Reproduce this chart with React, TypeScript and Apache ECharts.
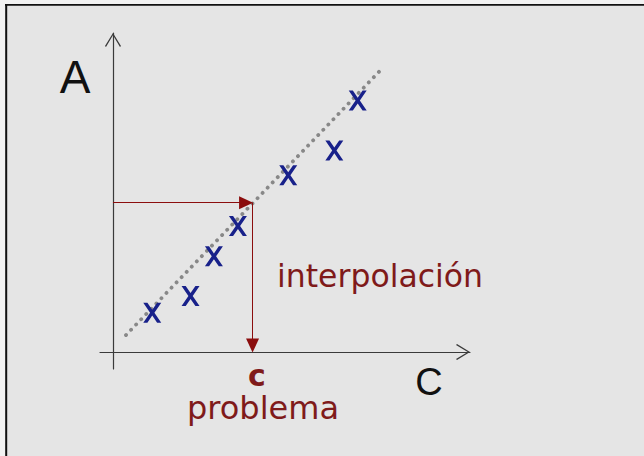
import React, { useEffect, useRef } from "react";
import * as echarts from "echarts";

// measured points (C, A)
const sampleC = [1.21, 2.39, 3.11, 3.85, 5.4, 6.82, 7.54];
const sampleA = [1.16, 1.65, 2.82, 3.71, 5.21, 5.94, 7.41];
// calibration line ends
const fitC = [0.4, 8.31];
const fitA = [0.5, 8.37];
// interpolated problem point
const problemC = 4.3;
const problemA = 4.4;
// arrow head length in data units (stop before target so tip meets it)
const headC = 0.2;
const headA = 0.19;

const axisNames = { y: "A", x: "C" };
const labels = { interp: "interpolación", c: "c", problem: "problema" };

const CHEVRON = "path://M0,13L8,0L16,13L15,14L8,2.3L1,14Z";
const XMARK =
  "path://M0,0L23,0L50,39L77,0L100,0L62,55L100,110L77,110L50,71L23,110L0,110L38,55Z";

const RED = "#7f1a1a";

export default function App() {
  const ref = useRef<HTMLDivElement>(null);
  useEffect(() => {
    if (!ref.current) return;
    const chart = echarts.init(ref.current, undefined, { renderer: "svg" });
    const axisLineStyle = { color: "#3a3a3a", width: 1.2 };
    chart.setOption({
      animation: false,
      backgroundColor: "#e5e5e5",
      grid: { left: 100, right: 174, top: 33, bottom: 87 },
      xAxis: {
        type: "value",
        min: -0.4,
        max: 11,
        axisLine: {
          show: true,
          onZero: true,
          symbol: ["none", CHEVRON],
          symbolSize: [16, 14],
          symbolOffset: [0, -7],
          lineStyle: axisLineStyle,
        },
        axisTick: { show: false },
        axisLabel: { show: false },
        splitLine: { show: false },
      },
      yAxis: {
        type: "value",
        min: -0.5,
        max: 9.4,
        axisLine: {
          show: true,
          onZero: true,
          symbol: ["none", CHEVRON],
          symbolSize: [16, 14],
          symbolOffset: [0, -7],
          lineStyle: axisLineStyle,
        },
        axisTick: { show: false },
        axisLabel: { show: false },
        splitLine: { show: false },
      },
      series: [
        {
          type: "line",
          data: fitC.map((c, i) => [c, fitA[i]]),
          symbol: "none",
          z: 2,
          lineStyle: { color: "#888888", width: 3.8, type: [0.1, 7.2], cap: "round" },
          markLine: {
            silent: true,
            symbol: ["none", "triangle"],
            symbolSize: [13, 14],
            label: { show: false },
            lineStyle: { color: "#8b0d0d", width: 1, type: "solid" },
            data: [
              [{ coord: [0, problemA] }, { coord: [problemC - headC, problemA] }],
              [{ coord: [problemC, problemA] }, { coord: [problemC, headA] }],
            ],
          },
        },
        {
          type: "scatter",
          data: sampleC.map((c, i) => [c, sampleA[i]]),
          symbol: XMARK,
          symbolSize: [18, 20],
          z: 5,
          itemStyle: { color: "#18218a", opacity: 1 },
        },
      ],
      graphic: [
        { type: "rect", shape: { x: 0, y: 0, width: 644, height: 4 }, style: { fill: "#f2f2f2" }, z: 10 },
        { type: "rect", shape: { x: 0, y: 0, width: 5, height: 456 }, style: { fill: "#f2f2f2" }, z: 10 },
        { type: "line", shape: { x1: 5, y1: 4.8, x2: 644, y2: 4.8 }, style: { stroke: "#111", lineWidth: 1.8 }, z: 11 },
        { type: "line", shape: { x1: 6.2, y1: 4, x2: 6.2, y2: 456 }, style: { stroke: "#111", lineWidth: 2 }, z: 11 },
        {
          type: "text",
          x: 75,
          y: 77,
          style: { text: axisNames.y, font: "46px 'Liberation Sans'", fill: "#111", align: "center", verticalAlign: "middle" },
          z: 12,
        },
        {
          type: "text",
          x: 429,
          y: 382,
          style: { text: axisNames.x, font: "38px 'Liberation Sans'", fill: "#111", align: "center", verticalAlign: "middle" },
          z: 12,
        },
        {
          type: "text",
          x: 277,
          y: 276,
          style: { text: labels.interp, font: "31.5px 'DejaVu Sans'", fill: RED, align: "left", verticalAlign: "middle" },
          z: 12,
        },
        {
          type: "text",
          x: 257,
          y: 375,
          style: { text: labels.c, font: "bold 30px 'DejaVu Sans'", fill: RED, align: "center", verticalAlign: "middle" },
          z: 12,
        },
        {
          type: "text",
          x: 187,
          y: 408,
          style: { text: labels.problem, font: "32px 'DejaVu Sans'", fill: RED, align: "left", verticalAlign: "middle" },
          z: 12,
        },
      ],
    });
    return () => chart.dispose();
  }, []);
  return (
    <div
      ref={ref}
      style={{ position: "fixed", left: 0, top: 0, width: 644, height: 456 }}
    />
  );
}
